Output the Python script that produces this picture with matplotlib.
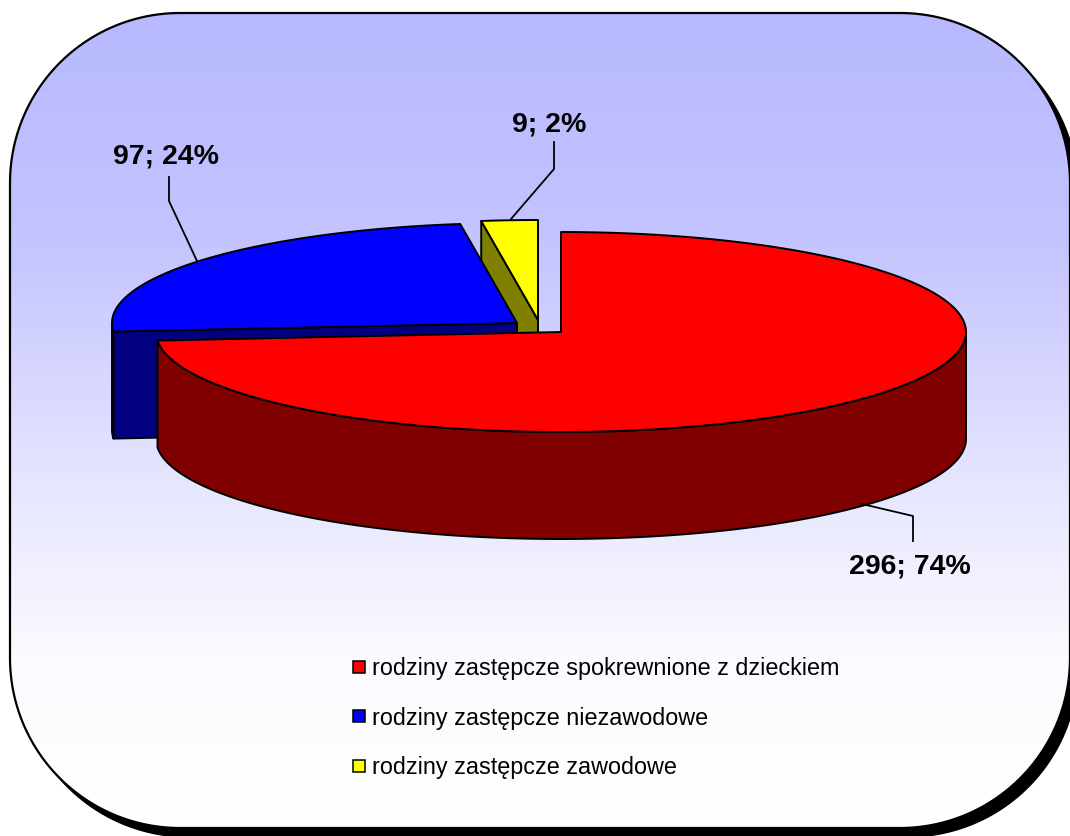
import numpy as np
import matplotlib
matplotlib.use("Agg")
import matplotlib.pyplot as plt
import matplotlib.patches as pt
from matplotlib.colors import LinearSegmentedColormap

categories = ["rodziny zastępcze spokrewnione z dzieckiem",
              "rodziny zastępcze niezawodowe",
              "rodziny zastępcze zawodowe"]
values = [296, 97, 9]
top_colors = ["#FF0000", "#0000FF", "#FFFF00"]
side_colors = ["#800000", "#000080", "#808000"]

# pie layout, in pixels of the picture
RX, RY, DEPTH = 405, 100, 107
centers = [(561, 333), (517, 324), (538, 321)]
label_pos = [(910, 566), (166, 156), (549, 124)]
leaders = [[(913, 542), (913, 517), (862, 505)],
           [(169, 178), (169, 202), (197, 262)],
           [(554, 143), (554, 170), (511, 220)]]
legend_y = [669, 718, 768]
LW = 1.4

plt.rcParams["font.family"] = ["Liberation Sans", "DejaVu Sans"]


def arc(cx, cy, a0, a1, n=200):
    t = np.radians(np.linspace(a0, a1, n))
    return np.column_stack((cx + RX * np.cos(t), cy - RY * np.sin(t)))


def rounded_card(x0, y0, x1, y1, r):
    pts = []
    for cx, cy, a0 in [(x1 - r, y0 + r, 90), (x0 + r, y0 + r, 180),
                       (x0 + r, y1 - r, 270), (x1 - r, y1 - r, 360)]:
        t = np.radians(np.linspace(a0 - 90, a0, 60))
        pts.append(np.column_stack((cx + r * np.cos(t), cy - r * np.sin(t))))
    return np.vstack(pts)


def poly(ax, pts, color, z):
    ax.add_patch(pt.Polygon(pts, closed=True, facecolor=color, edgecolor="black",
                            linewidth=LW, joinstyle="round", zorder=z))


fig = plt.figure(figsize=(10.7, 8.37), dpi=100)
ax = fig.add_axes([0, 0, 1, 1])
ax.set_xlim(0, 1070)
ax.set_ylim(837, 0)
ax.axis("off")

# card with shadow and gradient
card = rounded_card(10, 14, 1070, 829, 170)
ax.add_patch(pt.Polygon(card + [8, 9], closed=True, facecolor="black", edgecolor="black", zorder=1))
cmap = LinearSegmentedColormap.from_list(
    "card", [(0.0, "#B8B8FF"), (0.28, "#C4C4FF"), (0.58, "#E6E6FF"), (0.80, "#FBFBFF"), (1.0, "#FFFFFF")])
grad = np.linspace(0, 1, 400).reshape(-1, 1)
im = ax.imshow(grad, cmap=cmap, extent=(10, 1070, 829, 14), aspect="auto", zorder=2)
outline = pt.Polygon(card, closed=True, facecolor="none", edgecolor="black", linewidth=1.6, zorder=3)
ax.add_patch(outline)
im.set_clip_path(outline)
ax.set_xlim(0, 1070)
ax.set_ylim(837, 0)

# slice angles, clockwise from twelve o'clock, kept in 0..360
total = sum(values)
starts, ends = [], []
a = 90.0
for v in values:
    end = a - v / total * 360
    starts.append(a)
    ends.append(end)
    a = end + 360 if end < 0 else end
shares = [round(v / total * 100) for v in values]

# yellow, then blue, then red in front
for i, z in [(2, 4), (1, 6)]:
    cx, cy = centers[i]
    e = arc(cx, cy, starts[i], starts[i], 1)[0]
    if i == 1:
        rim = arc(cx, cy, 180, starts[i], 20)
        poly(ax, np.vstack((rim, (rim + [0, DEPTH])[::-1])), side_colors[i], z)
    apex = np.array([cx, cy])
    poly(ax, [apex, e, e + [0, DEPTH], apex + [0, DEPTH]], side_colors[i], z)

for i, z in [(2, 5), (1, 7)]:
    cx, cy = centers[i]
    poly(ax, np.vstack(([cx, cy], arc(cx, cy, starts[i], ends[i]))), top_colors[i], z)

cx, cy = centers[0]
rim = arc(cx, cy, ends[0] + 360, 360)
poly(ax, np.vstack((rim, (rim + [0, DEPTH])[::-1])), side_colors[0], 8)
poly(ax, np.vstack(([cx, cy], arc(cx, cy, starts[0], ends[0]))), top_colors[0], 9)

# value labels with leader lines
for v, s, pos, line in zip(values, shares, label_pos, leaders):
    xs, ys = zip(*line)
    ax.plot(xs, ys, color="black", linewidth=1.3, zorder=10)
    ax.text(pos[0], pos[1], f"{v}; {s}%", ha="center", va="center",
            fontsize=20.5, fontweight="bold", color="black", zorder=11)

# legend
for name, col, y in zip(categories, top_colors, legend_y):
    ax.add_patch(pt.Rectangle((352.5, y - 7), 12, 12, facecolor=col, edgecolor="black",
                              linewidth=1.1, zorder=10))
    ax.text(372, y, name, ha="left", va="center", fontsize=16.8, color="black", zorder=11)

fig.savefig("out.png", dpi=100)
